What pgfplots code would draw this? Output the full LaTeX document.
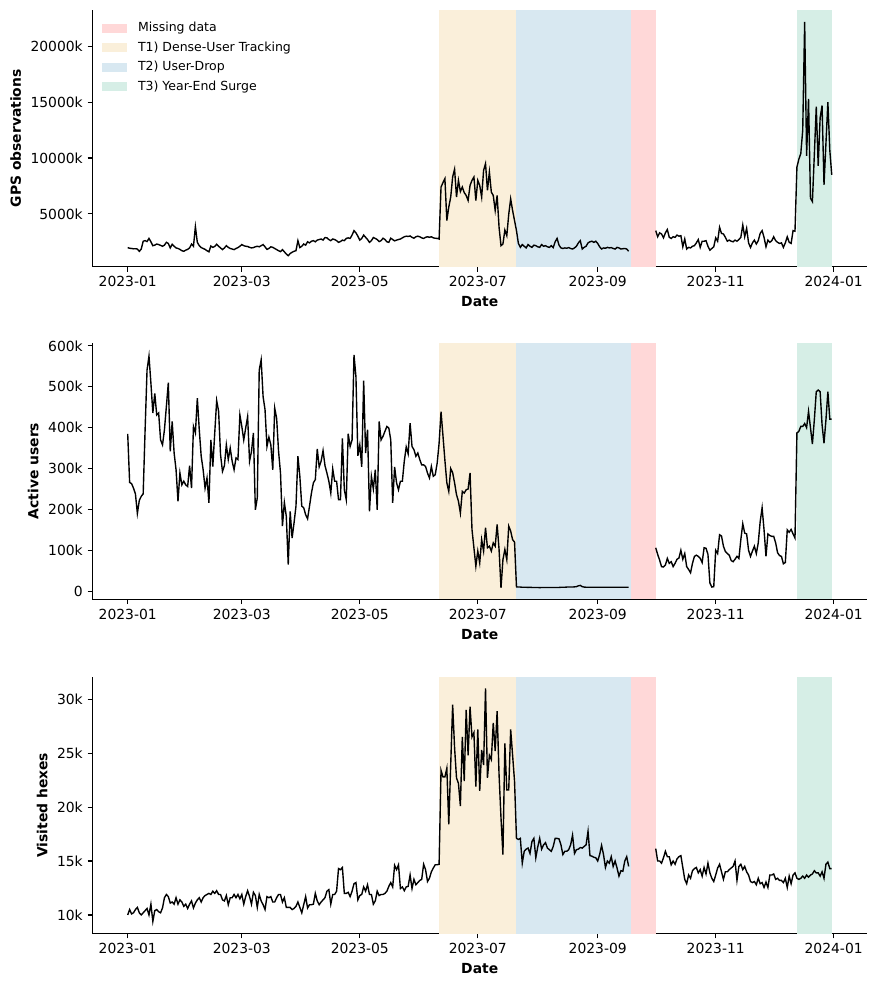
\documentclass[border=0pt]{standalone}
\usepackage{fontspec}
\setmainfont{DejaVu Sans}
\usepackage{pgfplots}
\usepackage{pgfplotstable}
\pgfplotsset{compat=1.18}

\definecolor{missingc}{RGB}{255,216,216}
\definecolor{tonec}{RGB}{250,239,218}
\definecolor{ttwoc}{RGB}{216,232,241}
\definecolor{tthreec}{RGB}{214,238,230}

% daily values for 2023; day = days since 2023-01-01
% gps and users in thousands, hexes in thousands
\pgfplotstableread{
day gps users hexes
0 1980 385 10.0
1 1920 266 10.5
2 1900 263 10.1
3 1870 252 10.2
4 1880 238 10.5
5 1850 190 10.7
6 1640 222 10.2
7 1850 232 10.0
8 2550 238 10.2
9 2600 395 10.4
10 2520 541 10.6
11 2800 575 10.0
12 2500 509 11.0
13 2150 436 9.4
14 2200 484 10.4
15 2300 431 10.5
16 2250 436 10.3
17 2180 370 10.2
18 2100 358 10.65
19 2200 395 11.6
20 2450 452 11.9
21 2350 510 11.7
22 1950 342 11.1
23 2280 415 11.2
24 2100 338 11.0
25 1950 297 11.6
26 1900 220 11.0
27 1820 289 11.4
28 1700 260 11.2
29 1650 269 10.8
30 1750 260 11.0
31 1820 256 10.6
32 1950 307 11.0
33 2300 252 11.3
34 2100 403 10.65
35 3850 387 11.1
36 2450 472 11.4
37 2150 395 11.6
38 1980 330 11.2
39 1900 297 11.6
40 1820 252 11.8
41 1700 277 11.9
42 1600 216 12.0
43 2120 370 11.9
44 2000 305 12.2
45 2080 387 12.0
46 2280 466 12.25
47 2100 440 11.9
48 1950 334 11.9
49 1800 293 11.4
50 1950 307 11.3
51 2150 358 11.8
52 2000 322 10.95
53 1900 350 11.6
54 1850 318 11.6
55 1800 297 11.9
56 1900 326 11.6
57 1980 322 11.9
58 2100 431 11.5
59 2250 403 11.9
60 2150 370 11.0
61 2100 399 11.7
62 2080 427 12.25
63 2000 318 11.7
64 1950 342 11.0
65 1980 387 12.1
66 2050 199 11.8
67 2100 228 10.7
68 2050 541 11.9
69 2150 566 11.3
70 2250 476 10.95
71 2050 444 10.5
72 1820 354 11.7
73 1900 377 11.6
74 2050 358 11.7
75 2000 297 11.2
76 1900 448 11.2
77 1800 423 11.6
78 1700 342 11.9
79 1620 289 11.9
80 1800 159 11.2
81 1600 217 11.6
82 1400 183 10.7
83 1250 65 10.7
84 1450 195 10.7
85 1560 130 10.5
86 1650 167 10.6
87 1700 208 10.8
88 2600 330 11.2
89 1980 281 10.7
90 2100 208 10.2
91 2300 204 10.95
92 2200 187 11.7
93 2500 177 10.65
94 2400 208 10.95
95 2550 240 10.95
96 2600 265 11.0
97 2500 273 12.0
98 2650 348 11.3
99 2700 304 10.95
100 2750 318 11.2
101 2650 344 11.4
102 2880 307 11.6
103 2850 289 12.2
104 2700 269 12.35
105 2600 240 11.0
106 2750 299 11.9
107 2700 269 11.9
108 2600 269 12.2
109 2450 224 14.3
110 2520 224 14.2
111 2650 374 14.4
112 2600 248 12.0
113 2800 224 12.0
114 2850 385 12.1
115 2800 354 11.7
116 3100 370 12.2
117 3500 578 12.9
118 3300 525 13.0
119 3000 331 11.4
120 2650 358 11.8
121 2800 304 11.9
122 3100 515 12.6
123 2900 338 12.2
124 2700 395 12.8
125 2450 195 11.9
126 2600 281 11.9
127 2880 250 11.0
128 2800 297 11.3
129 2700 199 12.2
130 2520 415 11.8
131 2600 370 11.9
132 2820 379 11.9
133 2700 391 12.0
134 2500 403 12.2
135 2450 399 12.65
136 2820 370 13.0
137 2700 216 12.6
138 2580 304 14.6
139 2650 265 14.2
140 2700 248 14.65
141 2750 269 12.45
142 2850 269 12.6
143 2950 318 12.25
144 3000 353 12.6
145 2980 336 12.65
146 3020 411 13.7
147 2900 354 12.45
148 2820 346 13.3
149 2950 330 12.8
150 3000 338 13.0
151 2950 322 13.2
152 2850 309 13.3
153 2800 309 14.7
154 2900 305 14.2
155 2950 289 13.1
156 2900 277 13.4
157 2950 305 14.0
158 2850 281 14.35
159 2820 285 14.65
160 2800 313 14.65
161 2750 362 14.7
162 7400 439 23.4
163 7800 380 22.8
164 8160 320 22.8
165 4400 265 23.6
166 5600 244 18.4
167 6500 300 23.9
168 8300 290 29.5
169 9000 265 25.5
170 6500 236 22.7
171 8000 220 22.2
172 7000 191 20.1
173 7400 244 26.5
174 6900 240 22.4
175 6650 248 29.0
176 6200 250 24.8
177 7550 289 29.3
178 8000 151 26.5
179 8300 106 26.9
180 6200 61 21.9
181 8000 98 27.2
182 7550 69 21.5
183 6500 126 25.3
184 8900 98 23.9
185 9500 155 31.0
186 7100 106 22.7
187 8750 110 24.8
188 6950 98 24.4
189 6650 118 27.8
190 5300 110 25.2
191 6650 163 28.9
192 3800 102 23.0
193 2150 8 19.0
194 2300 77 15.6
195 3550 102 25.9
196 3050 77 21.6
197 4950 159 21.6
198 6350 147 27.2
199 5300 126 24.8
200 4400 120 22.4
201 3500 10.5 17.1
202 2350 10 17.0
203 2000 10 17.1
204 2250 9.5 14.8
205 2100 9.5 15.9
206 1950 9.5 16.1
207 2250 9.0 16.2
208 2100 9.5 15.7
209 2000 9.0 16.8
210 2200 9.0 17.1
211 2150 9.0 15.3
212 2050 9.0 16.3
213 2000 8.5 17.1
214 2250 9.0 16.1
215 2100 9.0 16.5
216 2150 9.0 16.7
217 2050 9.0 16.2
218 2000 9.0 16.05
219 2150 9.0 15.9
220 1980 9.0 16.35
221 2500 9.0 17.1
222 2800 9.0 17.1
223 2200 9.0 17.05
224 1950 9.5 16.5
225 1900 9.5 15.6
226 1950 9.5 15.9
227 1920 10 15.9
228 1980 10 16.05
229 1900 10 16.5
230 1850 10 17.4
231 1950 10.5 15.7
232 2100 11 16.05
233 2400 13 16.1
234 2600 14 16.25
235 1850 11 16.2
236 2000 10 16.35
237 2100 9.5 16.5
238 2400 9.5 17.75
239 2500 9.5 15.5
240 2550 9.5 15.45
241 2450 9.5 15.35
242 2550 9.5 15.3
243 2350 9.5 15.0
244 2050 9.5 15.6
245 1850 9.5 16.45
246 1950 9.5 15.6
247 1920 9.5 14.4
248 2000 9.5 15.0
249 1950 9.5 14.8
250 1980 9.5 15.4
251 1900 9.5 14.5
252 1850 9.5 15.0
253 2000 9.5 14.35
254 1950 9.5 13.6
255 1850 9.5 14.1
256 1880 9.5 14.05
257 1900 9.5 15.0
258 1850 9.5 15.4
259 1650 9.5 14.5
260 nan nan nan
261 nan nan nan
262 nan nan nan
263 nan nan nan
264 nan nan nan
265 nan nan nan
266 nan nan nan
267 nan nan nan
268 nan nan nan
269 nan nan nan
270 nan nan nan
271 nan nan nan
272 nan nan nan
273 3500 106 16.15
274 2950 90 15.0
275 3300 76 15.0
276 3200 60 14.8
277 2850 59 15.3
278 3300 64 15.9
279 3600 80 15.4
280 2900 68 15.4
281 2800 72 14.65
282 2950 60 15.0
283 2900 68 14.7
284 3100 78 15.2
285 3000 81 15.4
286 3050 100 15.5
287 2050 78 14.4
288 2750 92 13.3
289 1850 60 12.9
290 2000 53 13.7
291 1950 45 13.4
292 2100 68 14.1
293 2150 85 14.3
294 2400 88 14.4
295 2700 85 13.9
296 2000 80 14.2
297 2550 70 13.6
298 2550 106 14.4
299 2600 105 13.8
300 2100 90 14.8
301 1750 20 13.9
302 1900 10 13.4
303 2050 11 13.1
304 2850 100 13.7
305 2550 92 14.35
306 3800 138 14.7
307 3250 135 14.0
308 3200 110 13.3
309 2900 97 14.0
310 2550 92 14.0
311 2650 88 14.2
312 2550 75 14.35
313 2500 72 14.5
314 2650 78 15.0
315 2550 85 13.2
316 2700 80 14.5
317 2900 126 14.7
318 4000 165 14.2
319 2950 142 14.5
320 3700 140 14.0
321 2400 100 13.7
322 1990 85 13.1
323 2400 98 13.0
324 2650 110 13.1
325 2300 92 12.8
326 2600 118 13.4
327 3250 170 12.9
328 3500 204 13.0
329 2900 150 12.55
330 2050 85 13.05
331 2650 140 12.55
332 2450 136 13.7
333 2600 134 13.7
334 2950 134 13.8
335 2600 118 13.3
336 2450 94 13.4
337 2350 87 13.2
338 2400 85 13.2
339 2000 67 13.0
340 2400 70 13.4
341 2950 150 12.55
342 2450 144 13.6
343 2350 151 12.9
344 3500 140 13.7
345 3450 130 13.9
346 9200 387 13.4
347 9900 391 13.3
348 10400 403 13.4
349 12500 403 13.6
350 22200 410 13.4
351 10200 400 13.7
352 15300 440 13.5
353 6400 400 13.7
354 6100 360 13.8
355 10300 419 14.1
356 14600 488 13.9
357 9300 492 13.9
358 13600 488 13.6
359 14700 407 14.0
360 7600 362 13.4
361 11300 419 14.7
362 15000 488 14.9
363 10700 421 14.3
364 8500 421 14.3
}\daily

\pgfplotsset{
  panel/.style={
    width=557.6pt, height=184.8pt, scale only axis,
    xmin=-18.2, xmax=382.2,
    scaled x ticks=false, scaled y ticks=false,
    axis x line*=bottom, axis y line*=left,
    axis line style={line width=0.8pt, -},
    tick style={line width=0.8pt, black},
    tick align=outside,
    major tick length=3.5pt,
    xtick={0,59,120,181,243,304,365},
    xticklabels={2023-01,2023-03,2023-05,2023-07,2023-09,2023-11,2024-01},
    ticklabel style={font=\fontsize{10}{12}\selectfont},
    label style={font=\bfseries\fontsize{10}{12}\selectfont},
    xlabel={Date},
    unbounded coords=jump,
    legend image code/.code={\fill[##1] (0pt,-3.2pt) rectangle (18pt,3.2pt);},
  },
  series/.style={black, line width=1pt, forget plot},
}

% shaded periods, drawn between the panel's own y limits
\newcommand{\periods}[2]{%
  \addplot[draw=none, fill=missingc] coordinates {(260,#1) (273,#1) (273,#2) (260,#2)} -- cycle;
  \addplot[draw=none, fill=tonec] coordinates {(161,#1) (201,#1) (201,#2) (161,#2)} -- cycle;
  \addplot[draw=none, fill=ttwoc] coordinates {(201,#1) (260,#1) (260,#2) (201,#2)} -- cycle;
  \addplot[draw=none, fill=tthreec] coordinates {(346,#1) (364,#1) (364,#2) (346,#2)} -- cycle;
}

\begin{document}
\begin{tikzpicture}
\useasboundingbox (-66.6pt,7.2pt) rectangle (564.12pt,-703.44pt);

\begin{axis}[panel, at={(0pt,0pt)}, anchor=north west,
  ymin=270, ymax=23260,
  ytick={5000,10000,15000,20000},
  yticklabels={5000k,10000k,15000k,20000k},
  ylabel={GPS observations},
  legend cell align=left,
  legend style={at={(0.0118,0.958)}, anchor=north west, draw=none, fill=none,
    inner sep=0pt, row sep=3.3pt, column sep=7pt,
    font=\fontsize{9}{11}\selectfont,
    nodes={inner sep=1pt, text height=6.8pt, text depth=1.9pt}},
]
\periods{270}{23260}
\legend{Missing data, T1) Dense-User Tracking, T2) User-Drop, T3) Year-End Surge}
\addplot[series] table[x=day, y=gps] {\daily};
\end{axis}

\begin{axis}[panel, at={(0pt,-239.5pt)}, anchor=north west,
  ymin=-20, ymax=608,
  ytick={0,100,200,300,400,500,600},
  yticklabels={0,100k,200k,300k,400k,500k,600k},
  ylabel={Active users},
]
\periods{-20}{608}
\addplot[series] table[x=day, y=users] {\daily};
\end{axis}

\begin{axis}[panel, at={(0pt,-480.2pt)}, anchor=north west,
  ymin=8.27, ymax=32.06,
  ytick={10,15,20,25,30},
  yticklabels={10k,15k,20k,25k,30k},
  ylabel={Visited hexes},
]
\periods{8.27}{32.06}
\addplot[series] table[x=day, y=hexes] {\daily};
\end{axis}
\end{tikzpicture}
\end{document}
